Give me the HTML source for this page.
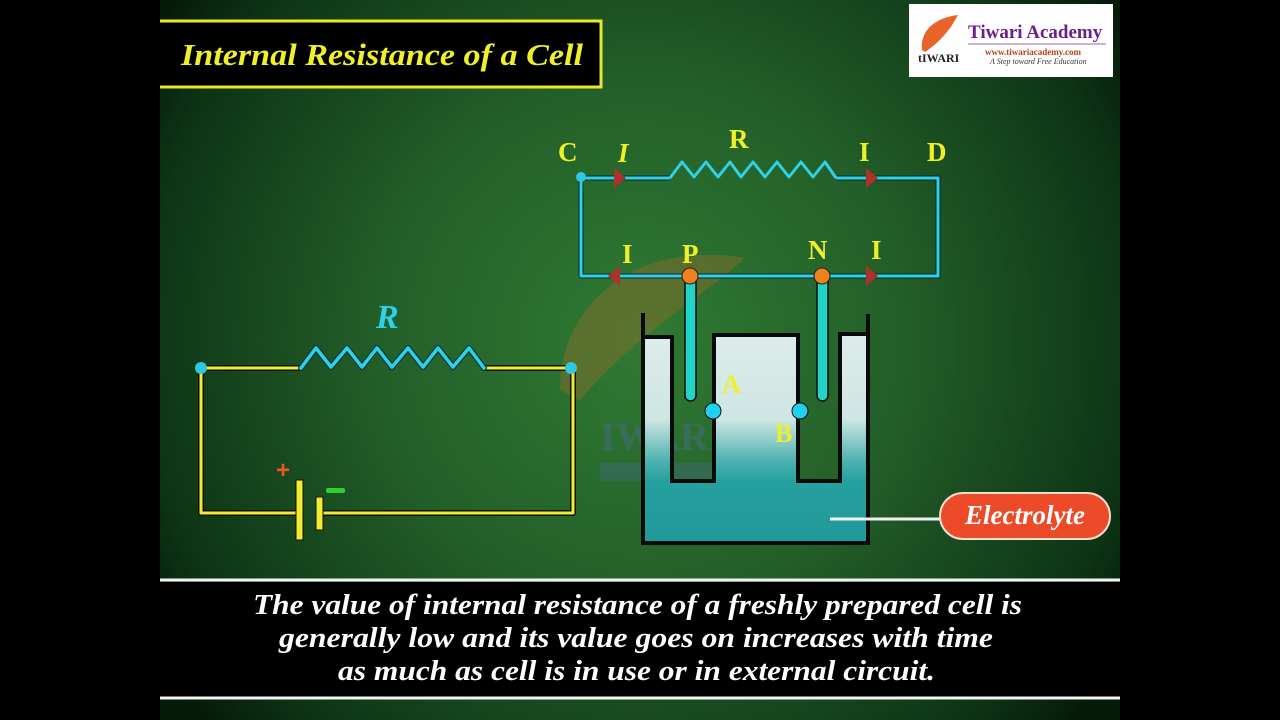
<!DOCTYPE html>
<html><head><meta charset="utf-8"><style>
html,body{margin:0;padding:0;background:#000;width:1280px;height:720px;overflow:hidden}
svg{display:block}
.s{font-family:"Liberation Serif",serif;font-weight:bold}
</style></head><body>
<svg width="1280" height="720" viewBox="0 0 1280 720" xmlns="http://www.w3.org/2000/svg">
<defs>
<radialGradient id="bg" cx="640" cy="340" r="580" gradientUnits="userSpaceOnUse">
<stop offset="0" stop-color="#2f7a33"/>
<stop offset="0.45" stop-color="#235f29"/>
<stop offset="0.85" stop-color="#0e3515"/>
<stop offset="1" stop-color="#051a09"/>
</radialGradient>
<linearGradient id="liq" x1="0" y1="336" x2="0" y2="543" gradientUnits="userSpaceOnUse">
<stop offset="0" stop-color="#dcecea"/>
<stop offset="0.4" stop-color="#cfe6e4"/>
<stop offset="0.6" stop-color="#4fb3b0"/>
<stop offset="0.7" stop-color="#25a09e"/>
<stop offset="1" stop-color="#22999a"/>
</linearGradient>
</defs>
<rect x="0" y="0" width="1280" height="720" fill="#000"/>
<rect x="160" y="0" width="960" height="720" fill="url(#bg)"/>
<!-- watermark -->
<path d="M560,390 C560,300 640,240 745,258 C700,300 640,330 580,400 Z" fill="#b06a2a" opacity="0.35"/>
<text x="600" y="450" class="s" font-size="40" fill="#5a6aa8" opacity="0.35" font-weight="normal">IWARI</text>
<rect x="600" y="463" width="145" height="18" fill="#4a6aa0" opacity="0.3"/>
<!-- title -->
<rect x="140" y="21" width="461" height="66" fill="#000" stroke="#e8e82a" stroke-width="3"/>
<text x="181" y="65" class="s" font-style="italic" font-size="31" fill="#f0f028" textLength="402" lengthAdjust="spacingAndGlyphs">Internal Resistance of a Cell</text>
<!-- logo -->
<rect x="909" y="4" width="204" height="73" fill="#fff"/>
<path d="M922,50 C920,30 935,18 958,15 C950,30 940,42 925,52 Z" fill="#e8632a"/>
<text x="918" y="62" font-family="Liberation Serif,serif" font-size="12" font-weight="bold" fill="#222">tIWARI</text>
<text x="968" y="38" class="s" font-size="19" fill="#6a1f8c">Tiwari Academy</text>
<line x1="968" y1="44" x2="1106" y2="44" stroke="#9a6ab0" stroke-width="1"/>
<text x="985" y="55" class="s" font-size="9" fill="#b8401a">www.tiwariacademy.com</text>
<text x="990" y="64" font-family="Liberation Serif,serif" font-style="italic" font-size="8" fill="#333">A Step toward Free Education</text>
<!-- left circuit -->
<g fill="none" stroke-linejoin="round" stroke-linecap="round">
<polyline points="301,368 201,368 201,513 296,513" stroke="#111" stroke-width="6"/>
<polyline points="301,368 201,368 201,513 296,513" stroke="#f0ec30" stroke-width="3"/>
<polyline points="484,368 573,368 573,513 323,513" stroke="#111" stroke-width="6"/>
<polyline points="484,368 573,368 573,513 323,513" stroke="#f0ec30" stroke-width="3"/>
<polyline points="301,368 316,348 331,367 347,348 362,367 377,348 392,367 408,348 423,367 438,348 453,367 469,348 484,368" stroke="#0a3a3a" stroke-width="6"/>
<polyline points="301,368 316,348 331,367 347,348 362,367 377,348 392,367 408,348 423,367 438,348 453,367 469,348 484,368" stroke="#2fd0e8" stroke-width="3.5"/>
</g>
<rect x="296" y="480" width="7" height="60" fill="#f0ec30" stroke="#111" stroke-width="1"/>
<rect x="316" y="497" width="7" height="33" fill="#f0ec30" stroke="#111" stroke-width="1"/>
<text x="276" y="478" font-family="Liberation Sans,sans-serif" font-size="24" font-weight="bold" fill="#e85a20">+</text>
<rect x="326" y="488" width="19" height="5" rx="2" fill="#30d030"/>
<circle cx="201" cy="368" r="6" fill="#2fc8e0"/>
<circle cx="571" cy="368" r="6" fill="#2fc8e0"/>
<text x="376" y="328" class="s" font-style="italic" font-size="34" fill="#2fd0e8">R</text>
<!-- beaker liquid -->
<path d="M643,337 L672,337 L672,481 L714,481 L714,335 L798,335 L798,481 L840,481 L840,334 L868,334 L868,543 L643,543 Z" fill="url(#liq)"/>
<polyline points="643,313 643,543 868,543 868,314" fill="none" stroke="#0a0a0a" stroke-width="4"/>
<polyline points="643,337 672,337 672,481 714,481 714,335 798,335 798,481 840,481 840,334 868,334" fill="none" stroke="#0a0a0a" stroke-width="4"/>
<!-- top circuit -->
<g fill="none" stroke-linejoin="round">
<polyline points="670,178 581,178 581,276 822,276" stroke="#0a2a2a" stroke-width="5"/>
<polyline points="670,178 581,178 581,276 822,276" stroke="#2fd0e8" stroke-width="3"/>
<polyline points="836,178 938,178 938,276 822,276" stroke="#0a2a2a" stroke-width="5"/>
<polyline points="836,178 938,178 938,276 822,276" stroke="#2fd0e8" stroke-width="3"/>
<polyline points="670,178 682,162 694,177 706,162 718,177 730,162 741,177 753,162 765,177 777,162 789,177 801,162 813,177 825,162 836,178" stroke="#2fd0e8" stroke-width="3"/>
</g>
<polygon points="614,168 626,178 614,188" fill="#b0302a"/>
<polygon points="866,168 878,178 866,188" fill="#b0302a"/>
<polygon points="620,266 608,276 620,286" fill="#b0302a"/>
<polygon points="866,266 878,276 866,286" fill="#b0302a"/>
<circle cx="581" cy="177" r="5" fill="#2fc8e0"/>
<!-- rods -->
<rect x="685" y="276" width="11" height="125" rx="5.5" fill="#22d4c8" stroke="#0a0a0a" stroke-width="1.5"/>
<rect x="817" y="276" width="11" height="125" rx="5.5" fill="#22d4c8" stroke="#0a0a0a" stroke-width="1.5"/>
<circle cx="690" cy="276" r="8" fill="#f0801a" stroke="#222" stroke-width="1"/>
<circle cx="822" cy="276" r="8" fill="#f0801a" stroke="#222" stroke-width="1"/>
<circle cx="713" cy="411" r="8" fill="#20d0f0" stroke="#111" stroke-width="1"/>
<circle cx="800" cy="411" r="8" fill="#20d0f0" stroke="#111" stroke-width="1"/>
<!-- labels -->
<g class="s" font-size="27" fill="#f0f028">
<text x="558" y="161">C</text>
<text x="618" y="162" font-style="italic">I</text>
<text x="729" y="148">R</text>
<text x="859" y="161">I</text>
<text x="927" y="161">D</text>
<text x="622" y="263">I</text>
<text x="682" y="263">P</text>
<text x="808" y="259">N</text>
<text x="871" y="259">I</text>
<text x="722" y="393" font-size="26">A</text>
<text x="775" y="442" font-size="26">B</text>
</g>
<!-- electrolyte -->
<line x1="830" y1="519" x2="942" y2="519" stroke="#f0f0f0" stroke-width="3"/>
<rect x="940" y="493" width="170" height="46" rx="23" fill="#ec4a28" stroke="#f4e0d0" stroke-width="2"/>
<text x="1025" y="524" class="s" font-style="italic" font-size="27" fill="#fff" text-anchor="middle">Electrolyte</text>
<!-- bottom text -->
<rect x="160" y="582" width="960" height="115" fill="#000"/>
<line x1="160" y1="580" x2="1120" y2="580" stroke="#f4f4f4" stroke-width="3"/>
<line x1="160" y1="698" x2="1120" y2="698" stroke="#f4f4f4" stroke-width="3"/>
<g class="s" font-style="italic" font-size="28" fill="#fff">
<text x="253" y="614" textLength="769" lengthAdjust="spacingAndGlyphs">The value of internal resistance of a freshly prepared cell is</text>
<text x="279" y="647" textLength="714" lengthAdjust="spacingAndGlyphs">generally low and its value goes on increases with time</text>
<text x="338" y="680" textLength="597" lengthAdjust="spacingAndGlyphs">as much as cell is in use or in external circuit.</text>
</g>
<rect x="0" y="0" width="160" height="720" fill="#000"/>
<rect x="1120" y="0" width="160" height="720" fill="#000"/>
</svg>
</body></html>
